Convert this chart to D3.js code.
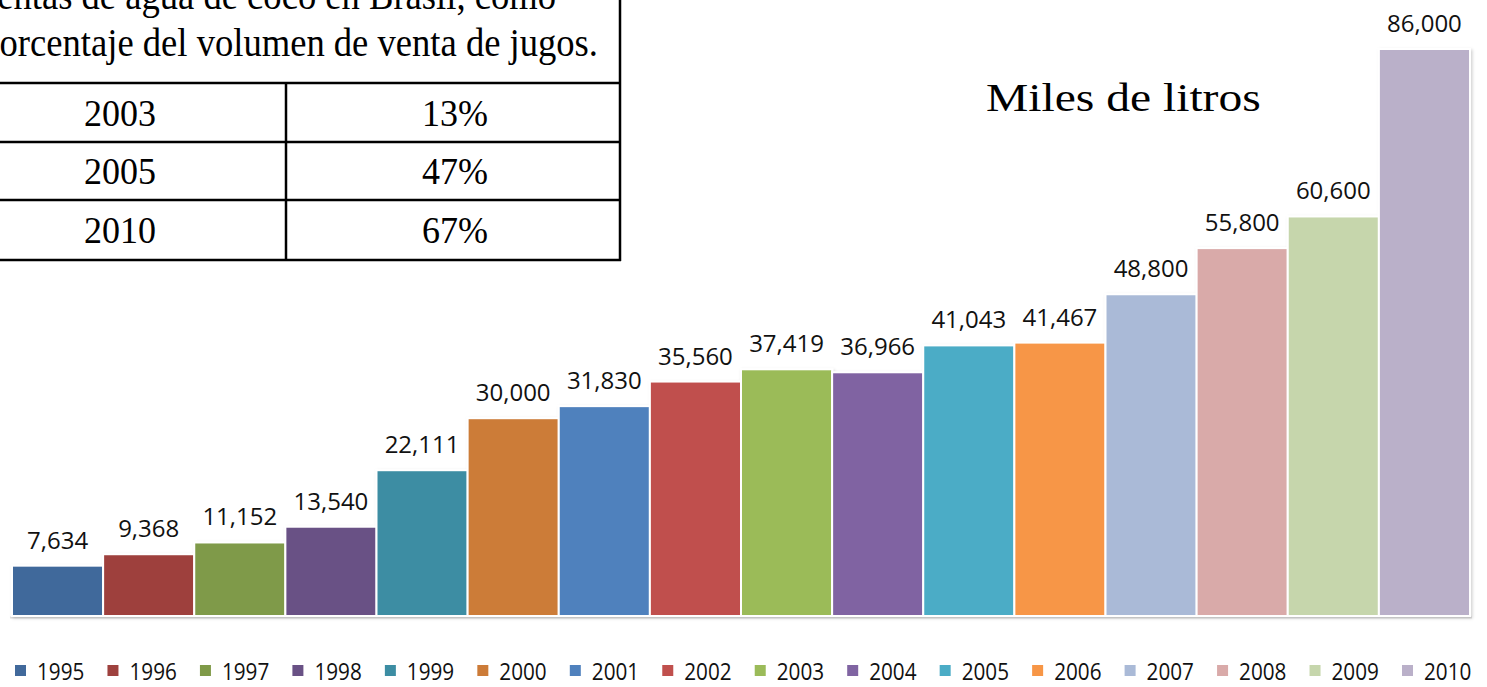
<!DOCTYPE html>
<html>
<head>
<meta charset="utf-8">
<script src="https://cdn.jsdelivr.net/npm/d3@7"></script>
<style>
  body { margin: 0; background: #fff; }
  svg { display: block; }
</style>
</head>
<body>
<div id="chart"></div>
<script>
// Data
const years = ["1995","1996","1997","1998","1999","2000","2001","2002","2003","2004","2005","2006","2007","2008","2009","2010"];
const values = [7634, 9368, 11152, 13540, 22111, 30000, 31830, 35560, 37419, 36966, 41043, 41467, 48800, 55800, 60600, 86000];
const barColors = ["#41699b","#9e413e","#7f9a48","#695185","#3c8da3","#cc7b38","#4f81bd","#c0504d",
                   "#9bbb59","#8064a2","#4bacc6","#f79646","#aabad7","#d9aaa9","#c6d6ac","#bab0c9"];

// small table in the upper left corner
const noteLines = ["Ventas de agua de coco en Brasil, como", "porcentaje del volumen de venta de jugos."];
const tableYears = ["2003", "2005", "2010"];
const tablePcts = ["13%", "47%", "67%"];

const W = 1487, H = 687;

const svg = d3.select("#chart")
    .append("svg")
    .attr("width", W)
    .attr("height", H);

// soft shadow like the office chart
const defs = svg.append("defs");
const filt = defs.append("filter").attr("id", "shadow")
    .attr("x", "-10%").attr("y", "-10%").attr("width", "130%").attr("height", "130%");
filt.append("feDropShadow")
    .attr("dx", 1.5).attr("dy", 1.5)
    .attr("stdDeviation", 1.5)
    .attr("flood-color", "#000")
    .attr("flood-opacity", 0.18);

// scales
const x = d3.scaleBand()
    .domain(years)
    .range([12, 1470])
    .padding(0);

const y = d3.scaleLinear()
    .domain([0, 86000])
    .range([616, 49]);

// faint floor line under the bars
svg.append("line")
    .attr("x1", x.range()[0] - 2).attr("x2", x.range()[1] + 2)
    .attr("y1", y(0) + 1.5).attr("y2", y(0) + 1.5)
    .attr("stroke", "#e2e2e2")
    .attr("stroke-width", 2);

// bars
const bars = svg.append("g").attr("filter", "url(#shadow)");
bars.selectAll("rect")
    .data(values)
    .enter()
    .append("rect")
        .attr("x", (d, i) => x(years[i]))
        .attr("y", d => y(d))
        .attr("width", x.bandwidth())
        .attr("height", d => y(0) - y(d))
        .attr("fill", (d, i) => barColors[i])
        .attr("stroke", "white")
        .attr("stroke-width", 2);

// value labels
svg.append("g")
    .selectAll("text")
    .data(values)
    .enter()
    .append("text")
        .attr("x", (d, i) => x(years[i]) + x.bandwidth() / 2)
        .attr("y", d => y(d) - 17)
        .attr("text-anchor", "middle")
        .attr("font-family", "'Open Sans', sans-serif")
        .attr("font-size", 24)
        .attr("fill", "#111")
        .text(d => d3.format(",")(d));

// legend
const lx = d3.scaleLinear().domain([0, years.length - 1]).range([15, 1402]);
const leg = svg.append("g");
leg.selectAll("rect")
    .data(years)
    .enter()
    .append("rect")
        .attr("x", (d, i) => lx(i))
        .attr("y", 665)
        .attr("width", 11)
        .attr("height", 11)
        .attr("fill", (d, i) => barColors[i]);
leg.selectAll("g")
    .data(years)
    .enter()
    .append("g")
        .attr("transform", (d, i) => `translate(${lx(i) + 22},680) scale(0.9,1)`)
    .append("text")
        .attr("font-family", "'Open Sans', sans-serif")
        .attr("font-size", 23)
        .attr("fill", "#111")
        .text(d => d);

// title (looks stretched horizontally in the original)
svg.append("g")
    .attr("transform", "translate(986,111) scale(1.16,1)")
    .append("text")
        .attr("font-family", "'Liberation Serif', 'Times New Roman', serif")
        .attr("font-size", 41)
        .attr("fill", "#000")
        .text("Miles de litros");

// table
const tbl = svg.append("g");
const rowLines = [83, 142, 200, 260];
const lineStyle = sel => sel.attr("stroke", "#000").attr("stroke-width", 2.5);

tbl.selectAll("line.row")
    .data(rowLines)
    .enter()
    .append("line")
        .attr("class", "row")
        .attr("x1", 0).attr("x2", 621)
        .attr("y1", d => d).attr("y2", d => d)
        .call(lineStyle);

tbl.append("line")
    .attr("x1", 286).attr("x2", 286)
    .attr("y1", rowLines[0]).attr("y2", rowLines[3])
    .call(lineStyle);
tbl.append("line")
    .attr("x1", 620).attr("x2", 620)
    .attr("y1", 0).attr("y2", rowLines[3] + 1)
    .call(lineStyle);

const serif = "'Liberation Serif', 'Times New Roman', serif";
const noteEnds = [556, 598];
const noteY = [9, 56];
noteLines.forEach((t, i) => {
    tbl.append("g")
        .attr("transform", `translate(${noteEnds[i]},${noteY[i]}) scale(1,1.07)`)
        .append("text")
            .attr("text-anchor", "end")
            .attr("font-family", serif)
            .attr("font-size", 36.6)
            .text(t);
});

tableYears.forEach((t, i) => {
    const by = (rowLines[i] + rowLines[i + 1]) / 2 + 13;
    tbl.append("g")
        .attr("transform", `translate(120,${by}) scale(1,1.07)`)
        .append("text")
            .attr("text-anchor", "middle")
            .attr("font-family", serif)
            .attr("font-size", 36)
            .text(t);
    tbl.append("g")
        .attr("transform", `translate(455,${by}) scale(1,1.07)`)
        .append("text")
            .attr("text-anchor", "middle")
            .attr("font-family", serif)
            .attr("font-size", 36)
            .text(tablePcts[i]);
});
</script>
</body>
</html>
